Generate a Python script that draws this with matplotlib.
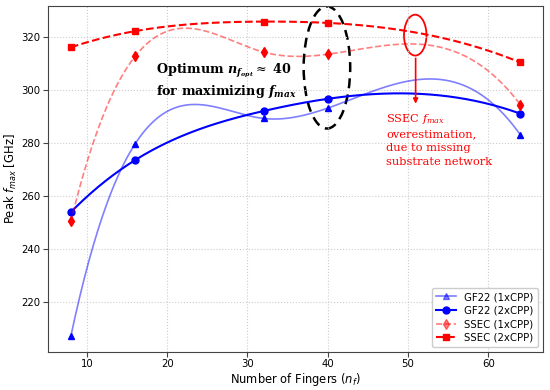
import numpy as np
import matplotlib.pyplot as plt
from matplotlib.patches import Ellipse
from matplotlib.lines import Line2D

# data
n_fingers = np.array([8, 16, 32, 40, 64])
gf22_1x = np.array([207.2, 279.6, 289.2, 293.1, 283.0])
gf22_2x = np.array([253.9, 273.5, 292.0, 296.6, 291.0])
ssec_1x = np.array([250.4, 312.6, 314.2, 313.4, 294.4])
ssec_2x = np.array([316.0, 322.1, 325.7, 325.2, 310.3])
labels = ['GF22 (1xCPP)', 'GF22 (2xCPP)', 'SSEC (1xCPP)', 'SSEC (2xCPP)']

plt.rcParams['mathtext.fontset'] = 'custom'
plt.rcParams['mathtext.rm'] = 'DejaVu Serif'
plt.rcParams['mathtext.it'] = 'DejaVu Serif:italic'
plt.rcParams['mathtext.bf'] = 'DejaVu Serif:italic:bold'


def smooth(x, y, xs):
    # not-a-knot cubic spline through the points (single interior knot at x[2])
    xk = x[2]
    A = np.column_stack([np.ones_like(x), x, x**2, x**3, np.clip(x - xk, 0, None)**3]).astype(float)
    c = np.linalg.solve(A, y)
    B = np.column_stack([np.ones_like(xs), xs, xs**2, xs**3, np.clip(xs - xk, 0, None)**3])
    return B @ c


xs = np.linspace(n_fingers[0], n_fingers[-1], 300)

fig, ax = plt.subplots(figsize=(5.5, 3.9), dpi=100)
fig.subplots_adjust(left=0.088, right=0.987, top=0.985, bottom=0.098)

ax.plot(xs, smooth(n_fingers, gf22_1x, xs), color='blue', alpha=0.5, lw=1.2)
ax.plot(n_fingers, gf22_1x, '^', color='blue', ms=5)
ax.plot(xs, smooth(n_fingers, gf22_2x, xs), color='blue', lw=1.5)
ax.plot(n_fingers, gf22_2x, 'o', color='blue', ms=5)
ax.plot(xs, smooth(n_fingers, ssec_1x, xs), '--', color='red', alpha=0.5, lw=1.2)
ax.plot(n_fingers, ssec_1x, 'd', color='red', ms=5)
ax.plot(xs, smooth(n_fingers, ssec_2x, xs), '--', color='red', lw=1.5)
ax.plot(n_fingers, ssec_2x, 's', color='red', ms=5)
xlim, ylim = ax.get_xlim(), ax.get_ylim()

handles = [
    Line2D([], [], color='blue', alpha=0.5, marker='^', ms=5, lw=1.2),
    Line2D([], [], color='blue', marker='o', ms=5, lw=1.5),
    Line2D([], [], color='red', alpha=0.5, marker='d', ms=5, lw=1.2, ls='--'),
    Line2D([], [], color='red', marker='s', ms=5, lw=1.5, ls='--'),
]
ax.legend(handles, labels, loc='lower right', fontsize=7.3, framealpha=1,
          labelspacing=0.35, handlelength=2.0)

ax.grid(True, color='#cccccc', ls=':', lw=0.8)
ax.set_xlabel('Number of Fingers ($n_f$)', fontsize=8.3, math_fontfamily='dejavusans', labelpad=1)
ax.set_ylabel('Peak $f_{max}$ [GHz]', fontsize=8.3, math_fontfamily='dejavusans', labelpad=2)
ax.tick_params(labelsize=7.3, color='#444444', pad=2)
for s in ax.spines.values():
    s.set_color('#444444')

# annotations
ax.add_patch(Ellipse((39.9, 308.4), 5.8, 46, fill=False, ec='black', ls=(0, (4, 2.5)), lw=1.8))
ax.add_patch(Ellipse((50.9, 320.6), 2.8, 15.4, fill=False, ec='red', lw=1.3))
ax.annotate('', xy=(50.95, 293.7), xytext=(50.95, 312.9),
            arrowprops=dict(arrowstyle='-|>', color='red', lw=1.2, mutation_scale=7))
ax.text(18.6, 310.6, 'Optimum $\\mathbf{n_{f_{opt}}}\\approx$ 40\nfor maximizing $\\mathbf{f_{max}}$',
        family='DejaVu Serif', fontweight='bold', fontsize=9.2, va='top', linespacing=1.25)
ax.text(47.3, 291.6, 'SSEC $f_{max}$\noverestimation,\ndue to missing\nsubstrate network',
        family='DejaVu Serif', color='red', fontsize=8.2, va='top', linespacing=1.45)
ax.set_xlim(xlim)
ax.set_ylim(ylim)

fig.savefig('out.png')
